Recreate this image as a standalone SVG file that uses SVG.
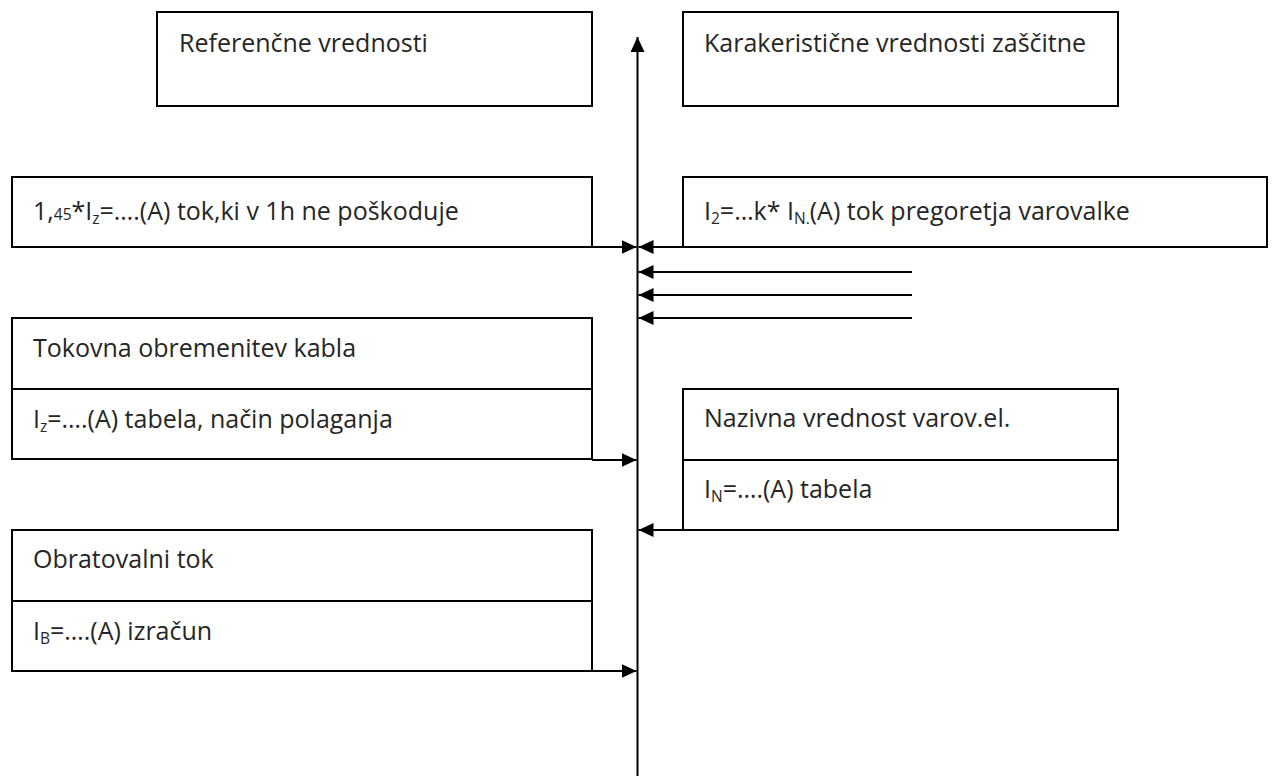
<svg xmlns="http://www.w3.org/2000/svg" width="1272" height="784" viewBox="0 0 1272 784">
<style>
.box{fill:#fff;stroke:#000;stroke-width:2}
.div{stroke:#000;stroke-width:2}
.t{font-family:"Open Sans","Liberation Sans",sans-serif;font-size:25px;fill:#262626}
.s{font-size:15.5px}
.c{stroke:#000;stroke-width:2;fill:none}
</style>
<defs>
<marker id="ah" viewBox="0 0 15 14" refX="15" refY="7" markerWidth="15" markerHeight="14" orient="auto" markerUnits="userSpaceOnUse">
<path d="M0,0 L15,7 L0,14 z" fill="#000"/>
</marker>
</defs>
<rect width="1272" height="784" fill="#fff"/>
<g id="connectors">
<line class="c" x1="637.5" y1="776" x2="637.5" y2="37" marker-end="url(#ah)"/>
<line class="c" x1="592" y1="247" x2="636.5" y2="247" marker-end="url(#ah)"/>
<line class="c" x1="683" y1="247" x2="638.5" y2="247" marker-end="url(#ah)"/>
<line class="c" x1="912" y1="272" x2="638.5" y2="272" marker-end="url(#ah)"/>
<line class="c" x1="912" y1="295" x2="638.5" y2="295" marker-end="url(#ah)"/>
<line class="c" x1="912" y1="318" x2="638.5" y2="318" marker-end="url(#ah)"/>
<line class="c" x1="592" y1="460" x2="636.5" y2="460" marker-end="url(#ah)"/>
<line class="c" x1="683" y1="530" x2="638.5" y2="530" marker-end="url(#ah)"/>
<line class="c" x1="592" y1="671" x2="636.5" y2="671" marker-end="url(#ah)"/>
</g>
<g id="n-referencne">
<rect class="box" x="157" y="12" width="435" height="94"/>
<text class="t" x="179" y="52">Referenčne vrednosti</text>
</g>
<g id="n-karakteristicne">
<rect class="box" x="683" y="12" width="435" height="94"/>
<text class="t" x="704" y="52">Karakeristične vrednosti zaščitne</text>
</g>
<g id="n-145iz">
<rect class="box" x="12" y="177" width="580" height="70"/>
<text class="t" x="33" y="220">1,<tspan class="s">45</tspan>*I<tspan class="s" dy="4">z</tspan><tspan dy="-4">=….(A) tok,ki v 1h ne poškoduje</tspan></text>
</g>
<g id="n-i2">
<rect class="box" x="683" y="177" width="584" height="70"/>
<text class="t" x="704" y="220">I<tspan class="s" dy="4">2</tspan><tspan dy="-4">=…k* I</tspan><tspan class="s" dy="4">N.</tspan><tspan dy="-4">(A) tok pregoretja varovalke</tspan></text>
</g>
<g id="n-tokovna">
<rect class="box" x="12" y="318" width="580" height="141"/>
<line class="div" x1="12" y1="389" x2="592" y2="389"/>
<text class="t" x="33" y="357">Tokovna obremenitev kabla</text>
<text class="t" x="33" y="428">I<tspan class="s" dy="4">z</tspan><tspan dy="-4">=….(A) tabela, način polaganja</tspan></text>
</g>
<g id="n-nazivna">
<rect class="box" x="683" y="389" width="435" height="141"/>
<line class="div" x1="683" y1="460" x2="1118" y2="460"/>
<text class="t" x="704" y="427">Nazivna vrednost varov.el.</text>
<text class="t" x="704" y="498">I<tspan class="s" dy="4">N</tspan><tspan dy="-4">=….(A) tabela</tspan></text>
</g>
<g id="n-obratovalni">
<rect class="box" x="12" y="530" width="580" height="141"/>
<line class="div" x1="12" y1="601" x2="592" y2="601"/>
<text class="t" x="33" y="568">Obratovalni tok</text>
<text class="t" x="33" y="640">I<tspan class="s" dy="4">B</tspan><tspan dy="-4">=….(A) izračun</tspan></text>
</g>
</svg>
